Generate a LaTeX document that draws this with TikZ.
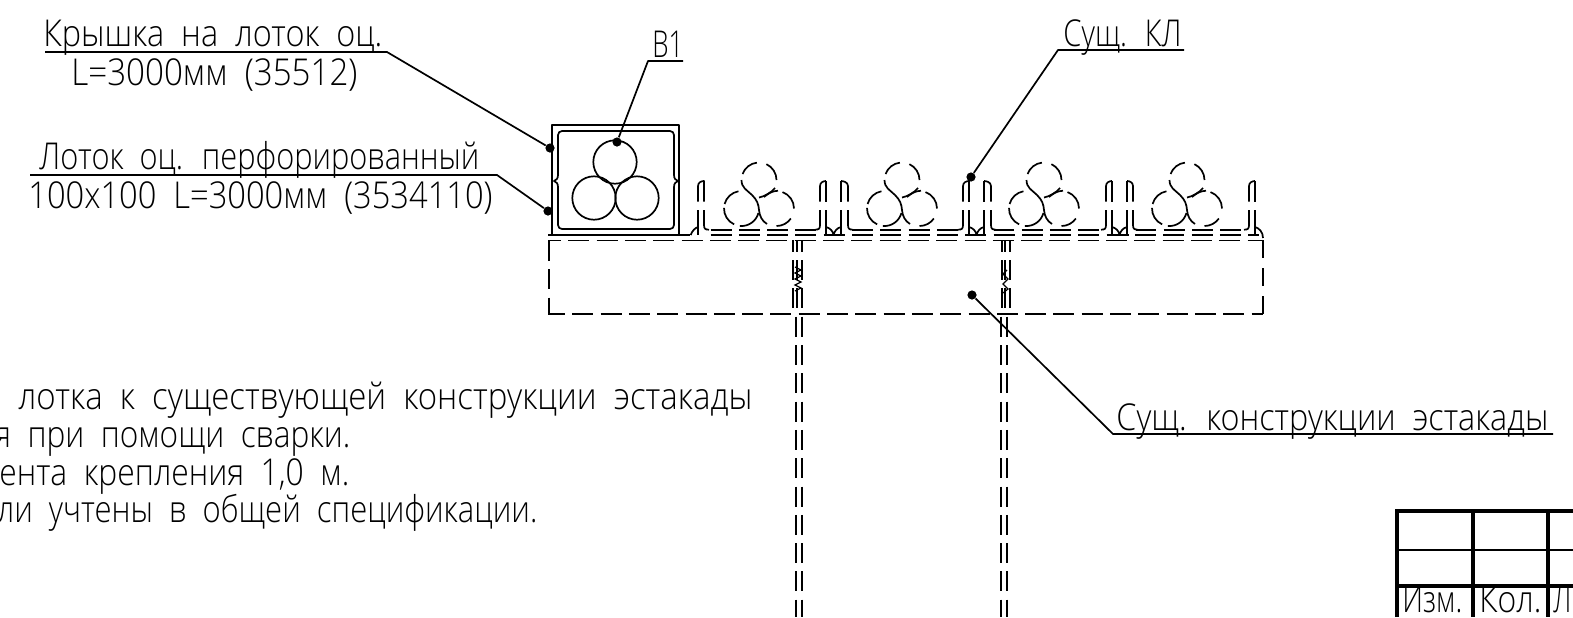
\documentclass[tikz,border=0pt]{standalone}
\usepackage{fontspec}
\usepackage{graphicx}
\setmainfont[WordSpace=2.0]{Open Sans Light}
\tikzset{
 x=0.5pt,y=-0.5pt,
 ln/.style={line width=0.85pt,line cap=butt,line join=round},
 dsh/.style={ln,dash pattern=on 10.5pt off 3.65pt},
 dot/.style={circle,fill=black,inner sep=0,minimum size=4.6pt},
 lbl/.style={anchor=base west,inner sep=0,font=\fontsize{18.5}{18.5}\selectfont},
}
\newcommand\ft[4]{\node[lbl] at (#1,#2) {\resizebox{#3pt}{\height}{#4}};}
\newcommand\wallL[2]{%
 \draw[ln] (#1,201.5) -- (#1,186) .. controls (#1,182) and (#2-2,181) .. (#2,181);
 \draw[ln] (#2,181) -- (#2,201.5);
 \draw[ln] (#1,210) -- (#1,225) .. controls (#1,228.5) and (#1-1,229.7) .. (#1-5,229.7);
 \draw[ln] (#2,210) -- (#2,235);}
\newcommand\wallR[2]{%
 \draw[ln] (#2,201.5) -- (#2,186) .. controls (#2,182) and (#1+2,181) .. (#1,181);
 \draw[ln] (#1,181) -- (#1,201.5);
 \draw[ln] (#2,210) -- (#2,225) .. controls (#2,228.5) and (#2+1,229.7) .. (#2+5,229.7);
 \draw[ln] (#1,210) -- (#1,235);}
\newcommand\veeshape[2]{%
 \draw[ln] (#1,227) .. controls (#1+4,228) and (#1+7,231) .. ({(#1+#2)/2},235)
  .. controls ({(#1+#2)/2+1},231) and (#2-4,228) .. (#2,227);
 \draw[ln] (#1-2,235) -- (#2+2,235);}
% arc of a cable: centre x, centre y, visual start and end angles
\newcommand\carc[4]{\draw[ln] (#1,#2) ++(-#3:17.5) arc[start angle=-#3,end angle=-#4,radius=17.5];}
\newcommand\cables[1]{\begin{scope}[shift={(#1,0)}]
 \carc{0}{180}{160}{97}
 \carc{0}{180}{65}{0}
 \draw[ln] (-17.5,180) .. controls (-17.5,188) and (-12,190) .. (-7,195)
   .. controls (-2,200) and (-0.5,204) .. (0,210) .. controls (0.5,216) and (3,221) .. (8,224);
 \draw[ln] (0,197.5) .. controls (5,196.5) and (12,193) .. (16,188);
 \draw[ln] (5,197) .. controls (9,193.5) and (13,191) .. (19,190.7);
 \carc{-17.5}{208.5}{100}{165}
 \carc{-17.5}{208.5}{178}{245}
 \carc{-17.5}{208.5}{265}{345}
 \carc{17.5}{208.5}{70}{0}
 \carc{17.5}{208.5}{-35}{-90}
\end{scope}}
\begin{document}
\begin{tikzpicture}
\useasboundingbox (0,0) rectangle (1573,617);
\clip (0,0) rectangle (1573,617);
\ft{43}{46}{169.5}{Крышка на лоток оц.}
\ft{71}{85}{143}{L=3000мм (35512)}
\ft{39}{169}{220}{Лоток оц. перфорированный}
\ft{28}{208}{232}{100х100 L=3000мм (3534110)}
\ft{652}{57}{15.5}{В1}
\ft{1063}{46}{59}{Сущ. КЛ}
\ft{1116}{430}{216}{Сущ. конструкции эстакады}
\ft{18}{409}{367}{лотка к существующей конструкции эстакады}
\ft{-6}{447}{178}{я при помощи сварки.}
\ft{-1}{485}{175}{ента крепления 1,0 м.}
\ft{-3}{522}{270}{ли учтены в общей спецификации.}
\node[dot] (d1) at (550,148) {};
\node[dot] (d2) at (548,211) {};
\node[dot] (d3) at (617,142) {};
\node[dot] (d4) at (971,177) {};
\node[dot] (d5) at (972,295) {};
\coordinate (a1) at (45,52); \coordinate (b1) at (387,52);
\coordinate (a2) at (30,175); \coordinate (b2) at (497,175);
\coordinate (a3) at (683,61); \coordinate (b3) at (648,61);
\coordinate (a4) at (1184,50); \coordinate (b4) at (1058,50);
\coordinate (a5) at (1553,434); \coordinate (b5) at (1113,434);
\draw[ln] (a1) -- (b1) -- (d1);
\draw[ln] (a2) -- (b2) -- (d2);
\draw[ln] (a3) -- (b3) -- (d3);
\draw[ln] (a4) -- (b4) -- (d4);
\draw[ln] (a5) -- (b5) -- (d5);
\draw[ln] (552,235) -- (552,125) -- (679,125) -- (679,235);
\draw[ln,rounded corners=2pt] (558,175) -- (558,131) -- (674,131) -- (674,175);
\draw[ln,rounded corners=2pt] (558,187) -- (558,229) -- (674,229) -- (674,187);
\draw[ln] (558,175) .. controls (558,179) and (556,180) .. (554,181) .. controls (556,182) and (558,183) .. (558,187);
\draw[ln] (674,175) .. controls (674,179) and (676,180) .. (678,181) .. controls (676,182) and (674,183) .. (674,187);
\draw[ln] (615,162) circle[radius=21.7];
\draw[ln] (594,198) circle[radius=21.7];
\draw[ln] (637,198) circle[radius=21.7];
\draw[ln] (698,201.5) -- (698,186) .. controls (698,182) and (702,181) .. (704,181) -- (704,201.5);
\draw[ln] (698,210) -- (698,235);
\draw[ln] (704,210) -- (704,225) .. controls (704,228.5) and (705,229.7) .. (709,229.7);
\draw[ln] (690.7,235) .. controls (692,231) and (695,228) .. (698,227);
\wallL{820}{826} \wallR{841}{848}
\wallL{963}{969} \wallR{984}{991}
\wallL{1106}{1112} \wallR{1127}{1133}
\wallL{1249}{1255}
\veeshape{826}{841} \veeshape{969}{984} \veeshape{1112}{1127}
\draw[ln] (1255,227) .. controls (1259,228) and (1263,232) .. (1263,238);
\draw[ln] (1248,235) -- (1259,235);
\cables{759} \cables{902} \cables{1044} \cables{1187}
\begin{scope}
\clip (705,225) rectangle (816,232); \draw[dsh] (682.2,229.7) -- (820,229.7);
\end{scope}
\begin{scope}
\clip (851,225) rectangle (959,232); \draw[dsh] (823.7,229.7) -- (963,229.7);
\end{scope}
\begin{scope}
\clip (994,225) rectangle (1102,232); \draw[dsh] (965,229.7) -- (1106,229.7);
\end{scope}
\begin{scope}
\clip (1136,225) rectangle (1245,232); \draw[dsh] (1107,229.7) -- (1249,229.7);
\end{scope}
\draw[ln] (548,235) -- (690,235);
\draw[dsh] (710.5,235) -- (1250,235);
\begin{scope}
\clip (548,230) rectangle (1264,320);
\draw[dsh] (540,240.5) -- (1263,240.5);
\draw[dsh] (544,314) -- (1263,314);
\end{scope}
\draw[ln,dash pattern=on 10pt off 4.15pt] (549,241) -- (549,314);
\draw[ln,dash pattern=on 9pt off 5pt] (1263,240) -- (1263,314);
\begin{scope}
\clip (780,240) rectangle (1020,617);
\foreach \lx in {796,801.7,1001,1007}{
 \draw[ln,dash pattern=on 10pt off 4.15pt] (\lx,316.7) -- (\lx,617);
}
\foreach \lx in {793,797.3,801.7,1001.7,1005,1010}{
 \draw[ln,dash pattern=on 10pt off 4.15pt] (\lx,231.8) -- (\lx,314);
}
\end{scope}
\draw[line width=0.6pt] (795,267) -- (801,270) -- (795,273) -- (801,276) -- (795,279) -- (801,282) -- (795,285) -- (801,288) -- (795,291);
\draw[line width=0.6pt] (1007,270) -- (1003,274) -- (1008,279) -- (1003,284) -- (1008,289) -- (1003,293);
\draw[line width=2pt] (1397,617) -- (1397,511) -- (1573,511);
\draw[line width=2pt] (1397,586) -- (1573,586);
\draw[line width=1pt] (1397,550) -- (1573,550);
\draw[line width=2pt] (1473,511) -- (1473,617);
\draw[line width=2pt] (1548,511) -- (1548,617);
\ft{1402}{612}{30}{Изм.}
\ft{1479}{612}{31}{Кол.}
\ft{1553}{612}{9}{Л}
\end{tikzpicture}
\end{document}
